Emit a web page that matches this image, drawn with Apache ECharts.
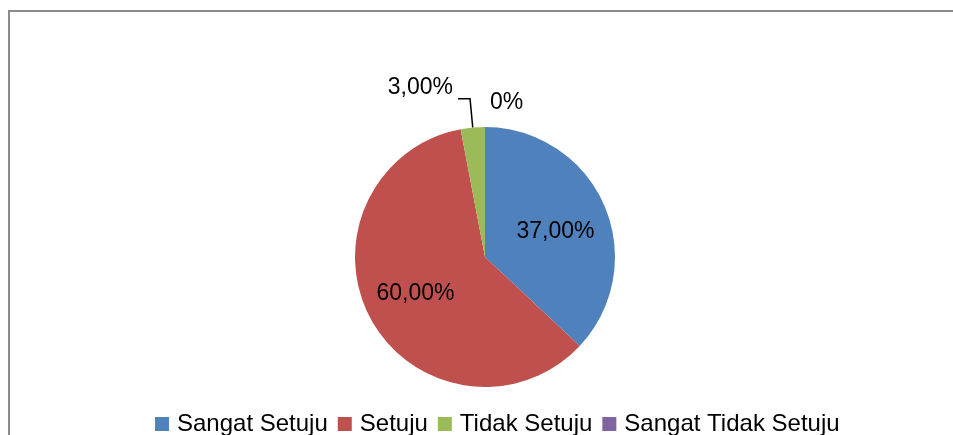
<!DOCTYPE html>
<html>
<head>
<meta charset="utf-8">
<script src="https://cdn.jsdelivr.net/npm/echarts@6/dist/echarts.min.js"></script>
<style>
html, body { margin: 0; padding: 0; background: #fff; }
#chart { width: 953px; height: 435px; }
</style>
</head>
<body>
<div id="chart"></div>
<script>
var categories = ['Sangat Setuju', 'Setuju', 'Tidak Setuju', 'Sangat Tidak Setuju'];
var values = [37, 60, 3, 0];
var labels = ['37,00%', '60,00%', '3,00%', '0%'];
var colors = ['#4F81BD', '#C0504D', '#9BBB59', '#8064A2'];

var dom = document.getElementById('chart');
var myChart = echarts.init(dom, null, {renderer: 'canvas'});

var font = 'Liberation Sans, Arial, sans-serif';

var pieData = categories.map(function (name, i) {
    var item = {name: name, value: values[i]};
    if (i >= 2) {
        item.label = {position: 'outside'};
    }
    if (i === 3) {
        item.labelLine = {show: false};
    }
    return item;
});

var option = {
    color: colors,
    animation: false,
    graphic: [{
        type: 'rect',
        shape: {x: 9, y: 11, width: 1000, height: 500},
        style: {fill: 'none', stroke: '#8c8c8c', lineWidth: 2}
    }],
    legend: {
        top: 407,
        left: 150,
        itemWidth: 14,
        itemHeight: 14,
        itemGap: 10,
        icon: 'rect',
        textStyle: {fontFamily: font, fontSize: 24, color: '#000', padding: [0, 0, 0, 3]},
        data: categories
    },
    series: [{
        type: 'pie',
        center: [485, 257],
        radius: 130,
        startAngle: 90,
        clockwise: true,
        stillShowZeroSum: true,
        itemStyle: {borderWidth: 0},
        emphasis: {disabled: true},
        label: {
            position: 'inside',
            fontFamily: font,
            fontSize: 23,
            color: '#000',
            formatter: function (p) { return labels[p.dataIndex]; }
        },
        labelLine: {
            show: true,
            length: 29,
            length2: 12,
            lineStyle: {color: '#000', width: 1.5}
        },
        labelLayout: function (p) {
            if (p.dataIndex === 0) return {dx: 8, dy: 2};
            if (p.dataIndex === 1) return {dx: -10, dy: 4};
            if (p.dataIndex === 2) return {dx: 0, dy: -11};
            if (p.dataIndex === 3) return {dx: -12, dy: 5};
            return {};
        },
        data: pieData
    }]
};

myChart.setOption(option, true);
</script>
</body>
</html>
